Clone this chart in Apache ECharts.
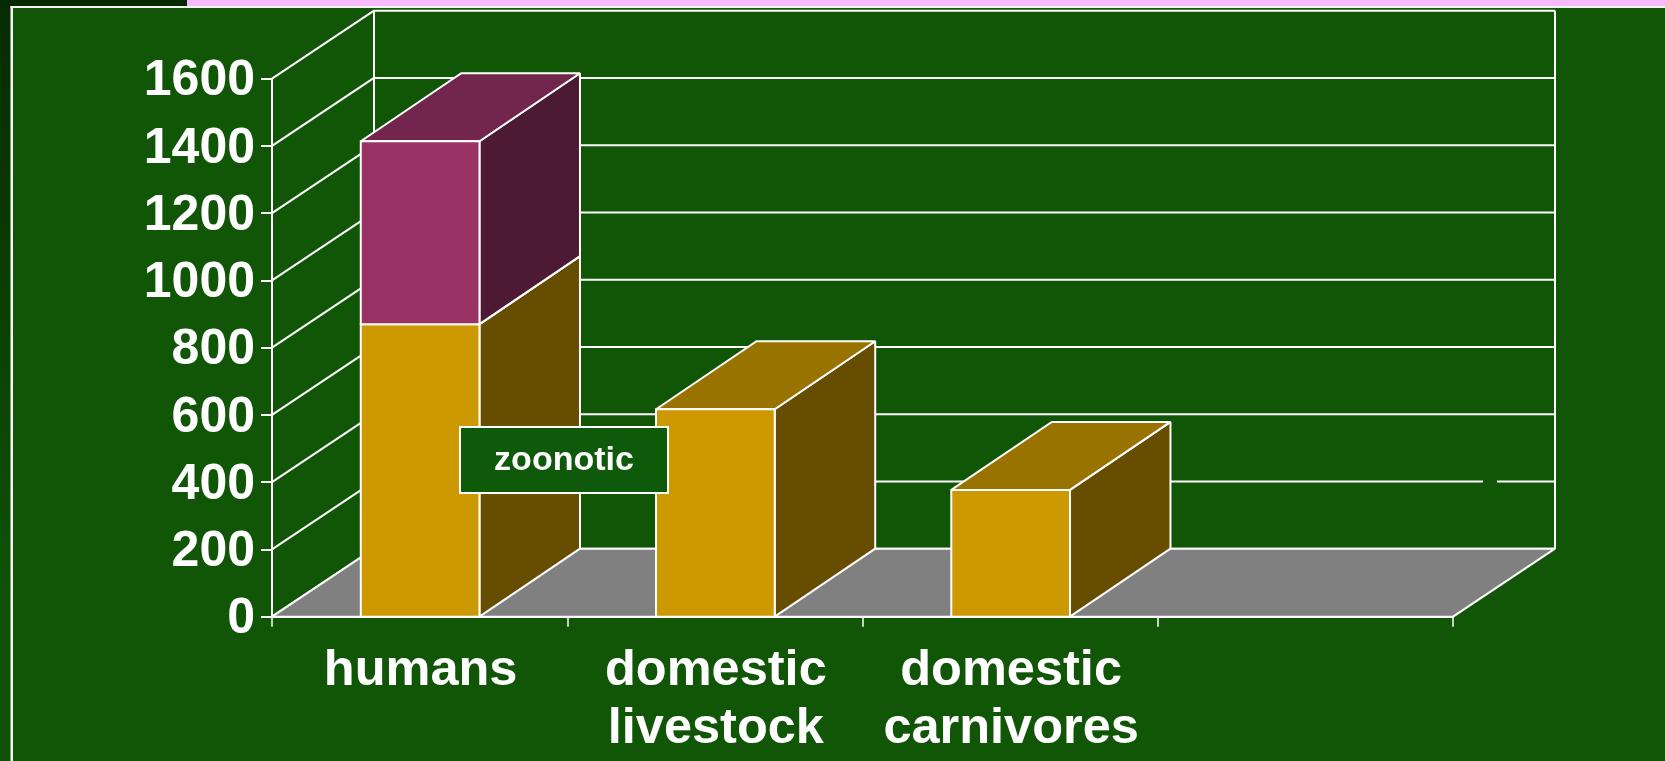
<!DOCTYPE html>
<html>
<head>
<meta charset="utf-8">
<title>zoonotic</title>
<style>
  html, body { margin: 0; padding: 0; background: #115506; }
  #chart { width: 1665px; height: 761px; }
</style>
<script src="https://cdn.jsdelivr.net/npm/echarts@6/dist/echarts.min.js"></script>
</head>
<body>
<div id="chart"></div>
<script>
const categories = ['humans', 'domestic\nlivestock', 'domestic\ncarnivores', ''];
const yTicks = [0, 200, 400, 600, 800, 1000, 1200, 1400, 1600];
const zoonoticValues = [870, 617, 377, 0];
const otherValues = [544, 0, 0, 0];

const BG = '#115506';
const WHITE = '#ffffff';
const FONT = '"Liberation Sans", Arial, sans-serif';

// 3D look: how far the back wall sits from the front plane, in pixels
const DX = 102;
const DY = 68;
// the boxes are a touch shallower than the walls
const BOX_DX = 100.5;
const BOX_DY = 68;

const gold = { front: '#cc9900', side: '#664d00', top: '#997300' };
const plum = { front: '#993366', side: '#4d1a33', top: '#73264d' };

function line(x1, y1, x2, y2) {
    return {
        type: 'line',
        shape: { x1: x1, y1: y1, x2: x2, y2: y2 },
        style: { stroke: WHITE, lineWidth: 2 }
    };
}

function poly(points, fill) {
    return {
        type: 'polygon',
        shape: { points: points },
        style: { fill: fill, stroke: WHITE, lineWidth: 2, lineJoin: 'miter', miterLimit: 2 }
    };
}

// one grid level: slanted line on the left wall, then along the back wall
function renderWall(params, api) {
    const cs = params.coordSys;
    const v = api.value(0);
    const y = api.coord([0, v])[1];
    const left = cs.x;
    const right = cs.x + cs.width;
    const children = [
        line(left, y, left + DX, y - DY),
        line(left + DX, y - DY, right + DX, y - DY)
    ];
    if (v === yTicks[yTicks.length - 1]) {
        const floorY = cs.y + cs.height - DY;
        children.push(line(left + DX, y - DY, left + DX, floorY));
        children.push(line(right + DX, y - DY, right + DX, floorY));
    }
    return { type: 'group', children: children };
}

function renderFloor(params) {
    const cs = params.coordSys;
    const b = cs.y + cs.height;
    return poly([
        [cs.x, b],
        [cs.x + cs.width, b],
        [cs.x + cs.width + DX, b - DY],
        [cs.x + DX, b - DY]
    ], '#808080');
}

function boxRenderer(colors) {
    return function (params, api) {
        const low = api.value(1);
        const high = api.value(2);
        if (high <= low) return null;
        const w = api.size([1, 0])[0] * 0.402;
        const c = api.coord([api.value(0), high]);
        const yb = api.coord([api.value(0), low])[1];
        const x0 = c[0] + 0.5 - w / 2;
        const x1 = c[0] + 0.5 + w / 2;
        const yt = c[1];
        return {
            type: 'group',
            children: [
                poly([[x1, yt], [x1 + BOX_DX, yt - BOX_DY], [x1 + BOX_DX, yb - BOX_DY], [x1, yb]], colors.side),
                poly([[x0, yt], [x0 + BOX_DX, yt - BOX_DY], [x1 + BOX_DX, yt - BOX_DY], [x1, yt]], colors.top),
                poly([[x0, yt], [x1, yt], [x1, yb], [x0, yb]], colors.front)
            ]
        };
    };
}

const zoonoticData = categories.map(function (c, i) {
    return [i, 0, zoonoticValues[i]];
});
const otherData = categories.map(function (c, i) {
    return [i, zoonoticValues[i], zoonoticValues[i] + otherValues[i]];
});

const chart = echarts.init(document.getElementById('chart'), null, { renderer: 'canvas' });

chart.setOption({
    animation: false,
    backgroundColor: BG,
    textStyle: { fontFamily: FONT },
    grid: { left: 272, right: 212, top: 78.7, bottom: 144.3 },
    xAxis: {
        type: 'category',
        data: categories,
        axisLine: { lineStyle: { color: WHITE, width: 2 } },
        axisTick: { show: true, length: 10, lineStyle: { color: WHITE, width: 1.5 } },
        axisLabel: {
            color: WHITE,
            fontFamily: FONT,
            fontWeight: 'bold',
            fontSize: 50.5,
            lineHeight: 58.5,
            margin: 25,
            padding: [0, 0, 0, 2],
            interval: 0
        },
        splitLine: { show: false }
    },
    yAxis: {
        type: 'value',
        min: 0,
        max: 1600,
        interval: 200,
        axisLine: { show: true, lineStyle: { color: WHITE, width: 2 } },
        axisTick: { show: true, length: 11, lineStyle: { color: WHITE, width: 2 } },
        axisLabel: {
            color: WHITE,
            fontFamily: FONT,
            fontWeight: 'bold',
            fontSize: 50,
            margin: 17,
            verticalAlign: 'top',
            lineHeight: 6,
            formatter: function (v) { return String(v); }
        },
        splitLine: { show: false }
    },
    series: [
        {
            name: 'walls',
            type: 'custom',
            coordinateSystem: 'cartesian2d',
            clip: false,
            silent: true,
            z: 2,
            data: yTicks.map(function (v) { return [v]; }),
            encode: { y: 0 },
            renderItem: renderWall
        },
        {
            name: 'floor',
            type: 'custom',
            coordinateSystem: 'cartesian2d',
            clip: false,
            silent: true,
            z: 3,
            data: [[0]],
            renderItem: renderFloor
        },
        {
            name: 'zoonotic',
            type: 'custom',
            coordinateSystem: 'cartesian2d',
            clip: false,
            z: 4,
            data: zoonoticData,
            encode: { x: 0, y: [1, 2] },
            renderItem: boxRenderer(gold)
        },
        {
            name: 'other',
            type: 'custom',
            coordinateSystem: 'cartesian2d',
            clip: false,
            z: 5,
            data: otherData,
            encode: { x: 0, y: [1, 2] },
            renderItem: boxRenderer(plum)
        }
    ],
    graphic: [
        // slide furniture round the chart
        {
            type: 'rect', z: 1,
            shape: { x: 0, y: 0, width: 10.5, height: 761 },
            style: {
                fill: new echarts.graphic.LinearGradient(0, 0, 0, 1, [
                    { offset: 0, color: '#062b00' },
                    { offset: 0.8, color: '#0f5206' },
                    { offset: 1, color: '#0f5206' }
                ])
            }
        },
        { type: 'rect', z: 1, shape: { x: 0, y: 0, width: 187, height: 6 }, style: { fill: '#062b00' } },
        { type: 'rect', z: 1, shape: { x: 187, y: 0, width: 1478, height: 6 }, style: { fill: '#f5bbfd' } },
        { type: 'rect', z: 1, shape: { x: 10.5, y: 6, width: 1655, height: 2 }, style: { fill: '#f4f4f4' } },
        { type: 'rect', z: 1, shape: { x: 10.5, y: 6, width: 2.5, height: 755 }, style: { fill: '#f4f4f4' } },
        // small break in the 200 line of the back wall
        { type: 'rect', z: 10, shape: { x: 1483, y: 478, width: 14, height: 5 }, style: { fill: BG } },
        // label box
        {
            type: 'rect', z: 20,
            shape: { x: 460, y: 427, width: 208, height: 66 },
            style: { fill: '#0f5a0a', stroke: WHITE, lineWidth: 2 }
        },
        {
            type: 'text', z: 21,
            x: 564, y: 461,
            style: {
                text: 'zoonotic',
                fill: WHITE,
                font: 'bold 34px ' + FONT,
                textAlign: 'center',
                textVerticalAlign: 'middle'
            }
        }
    ]
});
</script>
</body>
</html>
